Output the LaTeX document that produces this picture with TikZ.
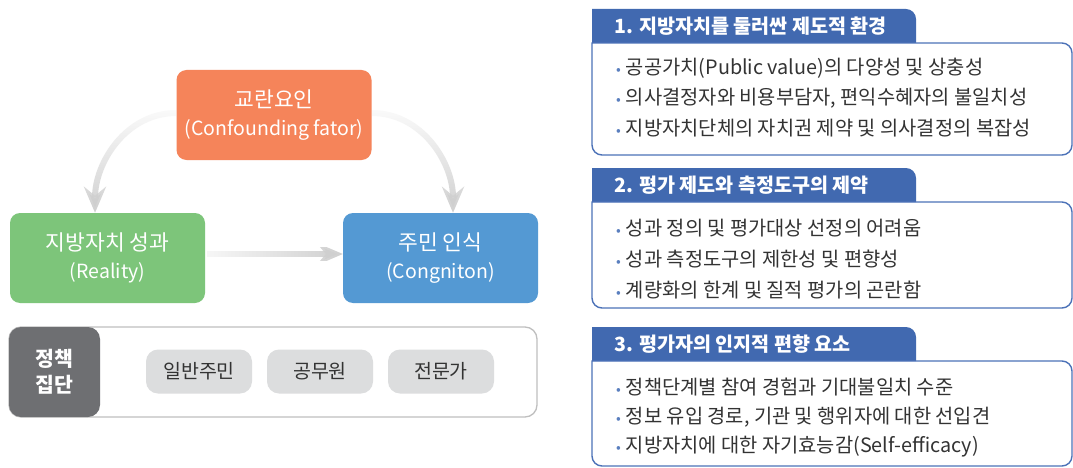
\documentclass[tikz,border=0pt]{standalone}
\usepackage{fontspec}
\setmainfont{Noto Sans CJK KR}
\usetikzlibrary{arrows.meta,fadings}
\definecolor{confc}{HTML}{F5845A}
\definecolor{realc}{HTML}{7DC57A}
\definecolor{cogc}{HTML}{5499D3}
\definecolor{grpc}{HTML}{6E6F72}
\definecolor{pillc}{HTML}{DCDDDE}
\definecolor{framec}{HTML}{BFBFBF}
\definecolor{tabc}{HTML}{4169B0}
\definecolor{panelc}{HTML}{4C72B8}
\definecolor{txtc}{HTML}{333333}
\definecolor{bulc}{HTML}{5A7FBF}
\definecolor{arrc}{HTML}{CFCFCF}
\tikzfading[name=faderight, left color=transparent!85, right color=transparent!0]
\tikzfading[name=fadedown, top color=transparent!90, bottom color=transparent!0]
\newcommand{\bul}{{\color{bulc}\fontsize{14}{14}\selectfont•}\hspace{5pt}}
\newcommand{\kr}[1]{{\fontsize{21.5}{27}\selectfont #1}}
\begin{document}
\begin{tikzpicture}[x=1pt,y=-1pt,
  mainbox/.style={rounded corners=10pt, text=white, align=center, minimum width=195pt, minimum height=90pt, inner sep=0pt, font=\fontsize{19.5}{28}\selectfont},
  pill/.style={rounded corners=12pt, fill=pillc, text=txtc, minimum width=106pt, minimum height=44pt, inner sep=0pt, font=\fontsize{19.5}{22}\selectfont},
  flow/.style={draw=arrc, line width=6pt, -{Stealth[length=26pt, width=22pt, inset=9pt]}},
  tabtext/.style={anchor=west, text=white, inner sep=0pt, font=\fontsize{19.6}{22}\selectfont\bfseries},
  item/.style={anchor=west, text=txtc, inner sep=0pt, font=\fontsize{19.8}{22}\selectfont},
  panel/.style={draw=panelc, line width=1.4pt},
]
\useasboundingbox (0,0) rectangle (1073,468);
\fill[white] (0,0) rectangle (1073,468);

% left diagram
\node[mainbox, fill=confc] (conf) at (274,115) {\kr{교란요인}\\(Confounding fator)};
\node[mainbox, fill=realc] (real) at (107.5,258) {\kr{지방자치 성과}\\(Reality)};
\node[mainbox, fill=cogc] (cog) at (440.5,258) {\kr{주민 인식}\\(Congniton)};

\coordinate (realtip) at ([xshift=-12.5pt]real.north);
\coordinate (cogtip) at ([xshift=12.5pt]cog.north);
\draw[flow, path fading=fadedown] ([yshift=2pt]conf.west) to[out=180, in=90] (realtip);
\draw[flow, path fading=fadedown] ([yshift=2pt]conf.east) to[out=0, in=90] (cogtip);
\draw[flow, path fading=faderight] ([xshift=2pt,yshift=4pt]real.east) -- ([yshift=4pt]cog.west);

% policy group
\node[draw=framec, line width=1.3pt, rounded corners=12pt, minimum width=528pt, minimum height=90pt, inner sep=0pt] (frame) at (273,372) {};
\node[fill=grpc, rounded corners=12pt, minimum width=91pt, minimum height=90pt, inner sep=0pt, text=white, align=center, font=\fontsize{20.5}{26}\selectfont\bfseries] (grp) at (54.5,372) {정책\\집단};
\node[pill] (p1) at (199,371.5) {일반주민};
\node[pill] (p2) at (320,371.5) {공무원};
\node[pill] (p3) at (441,371.5) {전문가};

% right panels
\foreach \t/\b/\n in {9/155/1, 168/308/2, 327/466/3}{
  \pgfmathsetmacro{\h}{\t+34}
  \fill[tabc] (592,\h) -- (592,\t) -- (906,\t) arc[start angle=90, end angle=0, radius=10pt] -- (916,\h) -- cycle;
  \draw[panel] (592,\h) -- (1062,\h) arc[start angle=90, end angle=0, radius=10pt] -- (1072,\b-10) arc[start angle=0, end angle=-90, radius=10pt] -- (602,\b) arc[start angle=270, end angle=180, radius=10pt] -- cycle;
}

\node[tabtext] (h1) at (614,26) {1. 지방자치를 둘러싼 제도적 환경};
\node[tabtext] (h2) at (614,185.5) {2. 평가 제도와 측정도구의 제약};
\node[tabtext] (h3) at (614,344) {3. 평가자의 인지적 편향 요소};

\node[item] (a1) at (616,68) {\bul 공공가치(Public value)의 다양성 및 상충성};
\node[item] (a2) at (616,98) {\bul 의사결정자와 비용부담자, 편익수혜자의 불일치성};
\node[item] (a3) at (616,128) {\bul 지방자치단체의 자치권 제약 및 의사결정의 복잡성};
\node[item] (b1) at (616,228) {\bul 성과 정의 및 평가대상 선정의 어려움};
\node[item] (b2) at (616,259) {\bul 성과 측정도구의 제한성 및 편향성};
\node[item] (b3) at (616,290) {\bul 계량화의 한계 및 질적 평가의 곤란함};
\node[item] (c1) at (616,387) {\bul 정책단계별 참여 경험과 기대불일치 수준};
\node[item] (c2) at (616,417) {\bul 정보 유입 경로, 기관 및 행위자에 대한 선입견};
\node[item] (c3) at (616,447) {\bul 지방자치에 대한 자기효능감(Self-efficacy)};
\end{tikzpicture}
\end{document}
